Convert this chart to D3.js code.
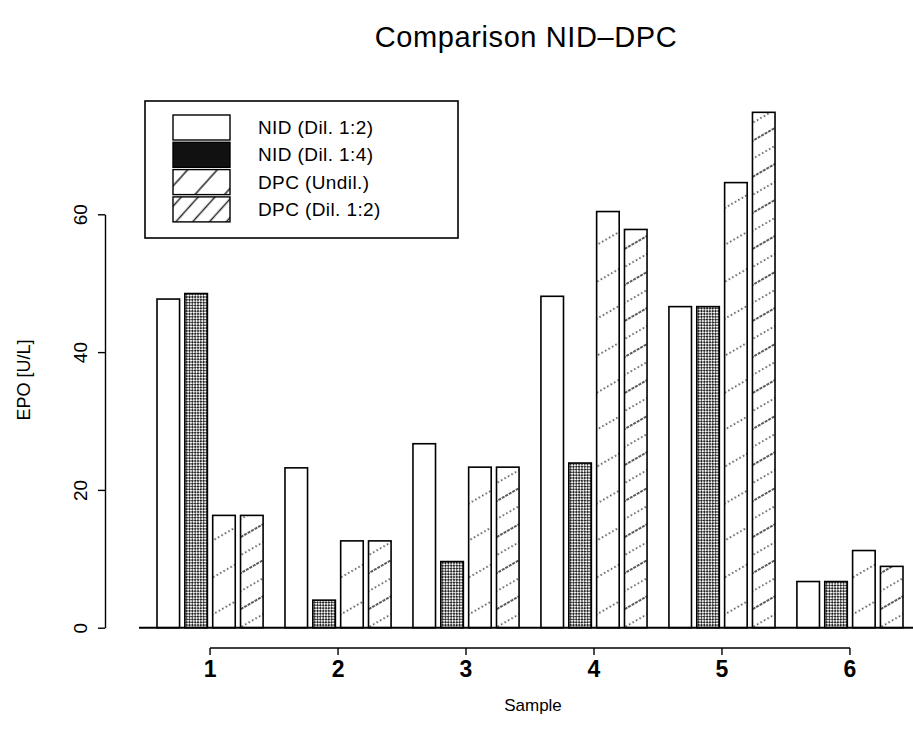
<!DOCTYPE html>
<html>
<head>
<meta charset="utf-8">
<script src="https://cdn.jsdelivr.net/npm/d3@7"></script>
<style>
  html, body { margin: 0; padding: 0; background: #fff; }
  svg { display: block; font-family: "Liberation Sans", Arial, sans-serif; }
</style>
</head>
<body>
<svg id="chart" width="913" height="742"></svg>
<script>
// Data
const samples = ["1", "2", "3", "4", "5", "6"];
const seriesNames = ["NID (Dil. 1:2)", "NID (Dil. 1:4)", "DPC (Undil.)", "DPC (Dil. 1:2)"];
const nidDil12 = [47.7, 23.2, 26.7, 48.1, 46.6, 6.7];
const nidDil14 = [48.5, 4.0, 9.6, 23.9, 46.6, 6.7];
const dpcUndil = [16.3, 12.6, 23.3, 60.4, 64.6, 11.2];
const dpcDil12 = [16.3, 12.6, 23.3, 57.8, 74.8, 8.9];
const yTicks = [0, 20, 40, 60];

const seriesValues = [nidDil12, nidDil14, dpcUndil, dpcDil12];
const rows = samples.map((s, i) => ({
  sample: s,
  values: seriesNames.map((name, k) => ({ key: name, k: k, value: seriesValues[k][i] }))
}));

const svg = d3.select("#chart");
const width = 913;

// Scales
const x = d3.scaleBand()
  .domain(samples)
  .range([157, 903])
  .paddingInner(0.171)
  .paddingOuter(0);

const xInner = d3.scaleBand()
  .domain(d3.range(4))
  .range([0, x.bandwidth()])
  .paddingInner(0.19);

const y = d3.scaleLinear()
  .domain([0, 60])
  .range([627.7, 214.3]);

// Fill patterns
const defs = svg.append("defs");

const dense = defs.append("pattern")
  .attr("id", "dense")
  .attr("patternUnits", "userSpaceOnUse")
  .attr("width", 4).attr("height", 4)
  .attr("patternTransform", "rotate(45)");
dense.append("rect").attr("width", 4).attr("height", 4).attr("fill", "#1a1a1a");
dense.append("circle").attr("cx", 1).attr("cy", 1).attr("r", 1.15).attr("fill", "#fff");
dense.append("circle").attr("cx", 3).attr("cy", 3).attr("r", 1.15).attr("fill", "#fff");

function linePattern(id, angle, gap, lines) {
  const p = defs.append("pattern")
    .attr("id", id)
    .attr("patternUnits", "userSpaceOnUse")
    .attr("width", 40).attr("height", gap * lines.length)
    .attr("patternTransform", `rotate(${angle})`);
  p.append("rect").attr("width", 40).attr("height", gap * lines.length).attr("fill", "#fff");
  lines.forEach((dash, i) => {
    p.append("line")
      .attr("x1", 0).attr("x2", 40)
      .attr("y1", i * gap + gap / 2).attr("y2", i * gap + gap / 2)
      .attr("stroke", "#222")
      .attr("stroke-width", 1.3)
      .attr("stroke-dasharray", dash);
  });
}
linePattern("undil", -30, 32, ["1.4,2.6"]);
linePattern("dil", -30, 15.6, ["3,1", "1.4,2.6"]);
linePattern("legUndil", -48, 22, [null]);
linePattern("legDil", -48, 12.5, [null]);

const barFill = ["#fff", "url(#dense)", "url(#undil)", "url(#dil)"];
const legendFill = ["#fff", "#111", "url(#legUndil)", "url(#legDil)"];

// Title
svg.append("text")
  .attr("x", 526).attr("y", 47)
  .attr("text-anchor", "middle")
  .attr("font-size", 29)
  .attr("letter-spacing", 0.6)
  .text("Comparison NID\u2013DPC");

// Bars
const groups = svg.append("g")
  .selectAll("g")
  .data(rows)
  .join("g")
  .attr("transform", d => `translate(${x(d.sample)},0)`);

groups.selectAll("rect")
  .data(d => d.values)
  .join("rect")
  .attr("x", d => xInner(d.k))
  .attr("y", d => y(d.value))
  .attr("width", xInner.bandwidth())
  .attr("height", d => y(0) - y(d.value))
  .attr("fill", d => barFill[d.k])
  .attr("stroke", "#000")
  .attr("stroke-width", 1.6);

// Baseline under the bars
svg.append("line")
  .attr("x1", x.range()[0] - 18).attr("x2", width)
  .attr("y1", y(0)).attr("y2", y(0))
  .attr("stroke", "#000").attr("stroke-width", 2);

// Y axis, labels turned to run along the axis
const yAxis = svg.append("g")
  .attr("transform", "translate(105,0)")
  .call(d3.axisLeft(y).tickValues(yTicks).tickSize(7).tickSizeOuter(0));
yAxis.selectAll("path, line").attr("stroke", "#000").attr("stroke-width", 1.4);
yAxis.selectAll(".tick text")
  .attr("font-size", 19)
  .attr("font-family", "Liberation Sans, Arial, sans-serif")
  .attr("fill", "#000")
  .attr("text-anchor", "middle")
  .attr("x", 0).attr("y", 0).attr("dy", 0)
  .attr("transform", "translate(-24,0) rotate(-90) translate(0,6)");

svg.append("text")
  .attr("transform", "translate(30,380) rotate(-90)")
  .attr("text-anchor", "middle")
  .attr("font-size", 18)
  .text("EPO [U/L]");

// X axis, line from first to last tick
const xAxisY = 648;
const xAxis = svg.append("g")
  .attr("transform", `translate(0,${xAxisY})`)
  .call(d3.axisBottom(x).tickSize(7).tickSizeOuter(0).tickPadding(6));
const c0 = x(samples[0]) + x.bandwidth() / 2;
const c1 = x(samples[samples.length - 1]) + x.bandwidth() / 2;
xAxis.select(".domain").attr("d", `M${c0},0H${c1}`);
xAxis.selectAll("path, line").attr("stroke", "#000").attr("stroke-width", 1.4);
xAxis.selectAll("text")
  .attr("font-size", 23)
  .attr("font-weight", "bold")
  .attr("font-family", "Liberation Sans Narrow, Arial Narrow, sans-serif")
  .attr("fill", "#000");

svg.append("text")
  .attr("x", 533).attr("y", 711)
  .attr("text-anchor", "middle")
  .attr("font-size", 17)
  .text("Sample");

// Legend
const legend = svg.append("g");
legend.append("rect")
  .attr("x", 145).attr("y", 101)
  .attr("width", 313).attr("height", 137)
  .attr("fill", "#fff")
  .attr("stroke", "#000")
  .attr("stroke-width", 1.6);

const legendRows = legend.selectAll("g.item")
  .data(seriesNames)
  .join("g")
  .attr("class", "item")
  .attr("transform", (d, i) => `translate(173,${115 + i * 27.3})`);

legendRows.append("rect")
  .attr("width", 57).attr("height", 25)
  .attr("fill", (d, i) => legendFill[i])
  .attr("stroke", "#000")
  .attr("stroke-width", 1.4);

legendRows.append("text")
  .attr("x", 85).attr("y", 12.5)
  .attr("dy", "0.35em")
  .attr("font-size", 19)
  .attr("letter-spacing", 0.4)
  .text(d => d);
</script>
</body>
</html>
